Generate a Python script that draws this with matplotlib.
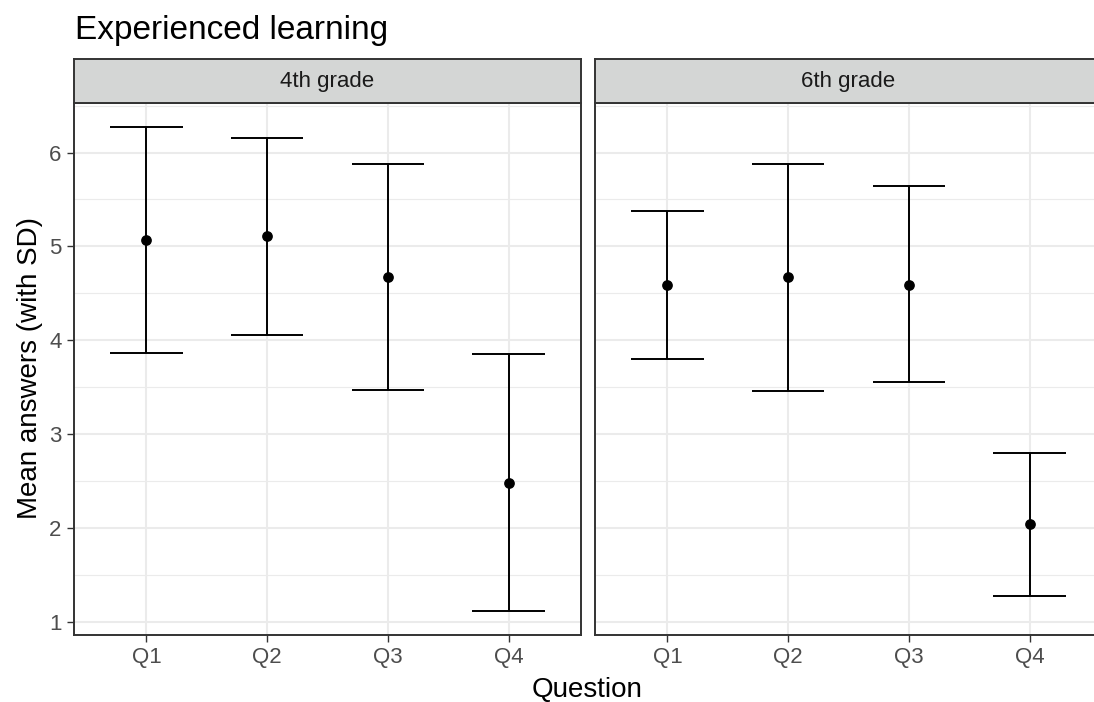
import matplotlib.pyplot as plt
from matplotlib.ticker import MultipleLocator

plt.rcParams["font.family"] = ["Liberation Sans", "DejaVu Sans"]

questions = ["Q1", "Q2", "Q3", "Q4"]
grades = ["4th grade", "6th grade"]

means_4th = [5.07, 5.11, 4.67, 2.48]
upper_4th = [6.27, 6.15, 5.88, 3.85]
lower_4th = [3.86, 4.06, 3.47, 1.12]

means_6th = [4.59, 4.67, 4.59, 2.04]
upper_6th = [5.38, 5.88, 5.64, 2.80]
lower_6th = [3.80, 3.46, 3.55, 1.28]

panels = [
    (means_4th, lower_4th, upper_4th),
    (means_6th, lower_6th, upper_6th),
]

W, H = 1094, 702
fig = plt.figure(figsize=(W / 100, H / 100), dpi=100)

# ggplot-like 5% expansion on the shared y scale
all_lo = min(lower_4th + lower_6th)
all_hi = max(upper_4th + upper_6th)
pad = (all_hi - all_lo) * 0.05
ylim = (all_lo - pad, all_hi + pad)

panel_w = 507
panel_lefts = [74, 595]
panel_top, panel_bottom = 103, 634.7
strip_top = 59

border = "#333333"
x = list(range(1, len(questions) + 1))

for i, (grade, (means, lo, hi)) in enumerate(zip(grades, panels)):
    left = panel_lefts[i]
    ax = fig.add_axes([left / W, (H - panel_bottom) / H,
                       panel_w / W, (panel_bottom - panel_top) / H])
    ax.set_xlim(0.4, len(questions) + 0.6)
    ax.set_ylim(*ylim)
    ax.set_xticks(x)
    ax.set_xticklabels(questions)
    ax.yaxis.set_major_locator(MultipleLocator(1))
    ax.yaxis.set_minor_locator(MultipleLocator(0.5))
    ax.grid(which="major", color="#ebebeb", linewidth=1.5)
    ax.grid(which="minor", axis="y", color="#ebebeb", linewidth=0.8)
    ax.set_axisbelow(True)
    for sp in ax.spines.values():
        sp.set_color(border)
        sp.set_linewidth(1.4)
    ax.tick_params(which="major", length=5, width=1, color=border,
                   labelsize=16, labelcolor="#4d4d4d", pad=4)
    ax.tick_params(which="minor", length=0)
    if i > 0:
        ax.tick_params(axis="y", which="both", left=False, labelleft=False)

    ax.vlines(x, lo, hi, color="black", linewidth=1.4, zorder=3)
    ax.hlines(lo, [v - 0.3 for v in x], [v + 0.3 for v in x],
              color="black", linewidth=1.4, zorder=3)
    ax.hlines(hi, [v - 0.3 for v in x], [v + 0.3 for v in x],
              color="black", linewidth=1.4, zorder=3)
    ax.plot(x, means, "o", color="black", markersize=6.7, zorder=4)

    sax = fig.add_axes([left / W, (H - panel_top) / H,
                        panel_w / W, (panel_top - strip_top) / H])
    sax.set_facecolor("#d4d6d5")
    sax.set_xticks([])
    sax.set_yticks([])
    for sp in sax.spines.values():
        sp.set_color(border)
        sp.set_linewidth(1.4)
    sax.text(0.5, 0.5, grade, transform=sax.transAxes, ha="center",
             va="center", fontsize=16, color="#1a1a1a")

fig.text(75 / W, 1 - 39 / H, "Experienced learning", ha="left",
         va="baseline", fontsize=24, color="black")
fig.text(587 / W, 1 - 697 / H, "Question", ha="center", va="baseline",
         fontsize=20, color="black")
fig.text(30 / W, 1 - 368 / H, "Mean answers (with SD)", ha="center",
         va="center", rotation=90, fontsize=20, color="black")

fig.savefig("out.png", dpi=100)
plt.close(fig)
